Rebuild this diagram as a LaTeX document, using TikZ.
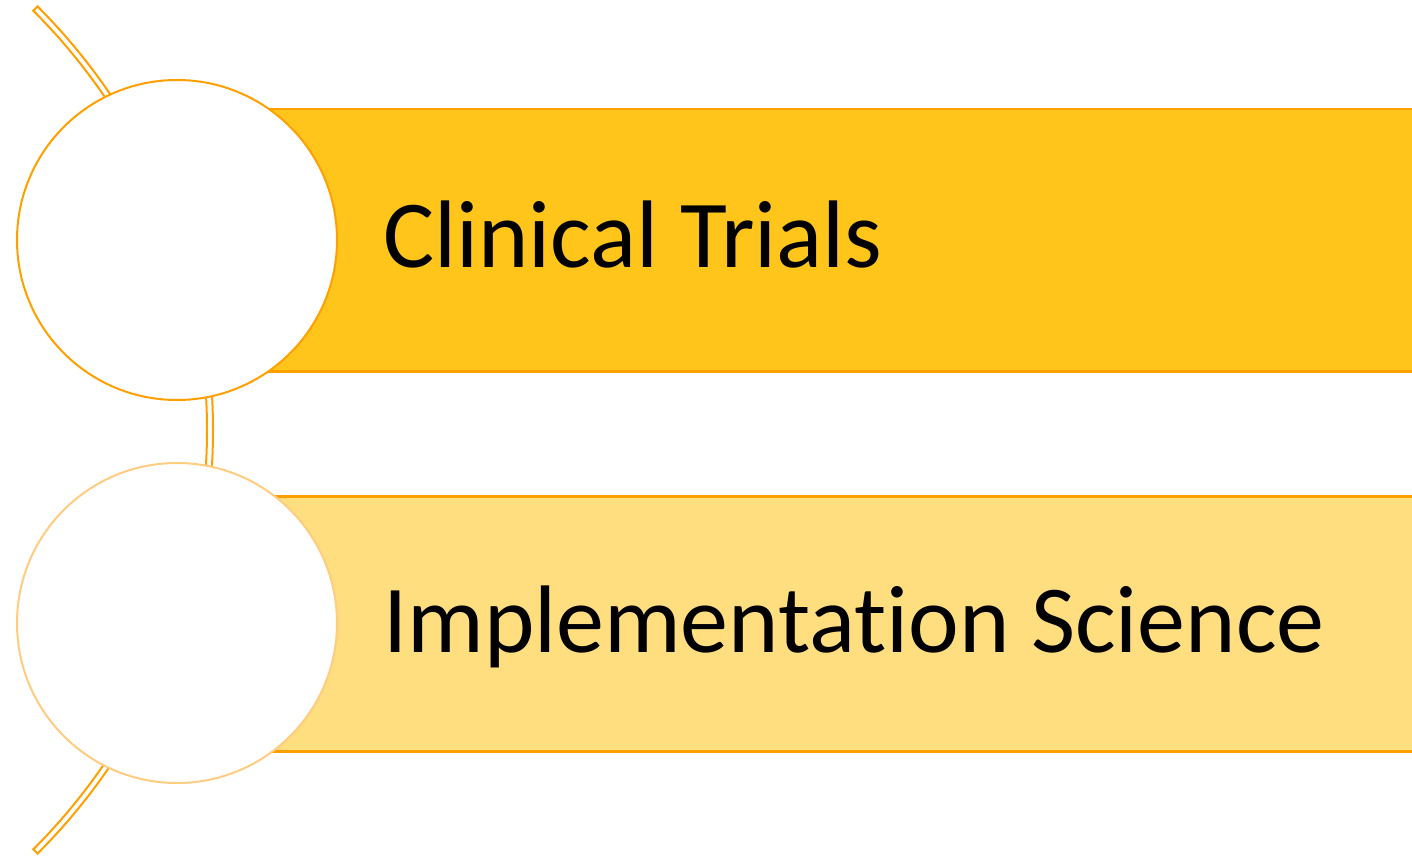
\documentclass[tikz,border=0pt]{standalone}
\usetikzlibrary{calc}
\usepackage{fontspec}
\setmainfont{Carlito}[Ligatures=CommonOff]
\definecolor{edge}{HTML}{FFA000}
\definecolor{barA}{HTML}{FFC51A}
\definecolor{barB}{HTML}{FFDE80}
\definecolor{edgeB}{HTML}{FFCC80}
\tikzset{
  bar/.style={draw=edge, line width=2.5pt, minimum width=1300pt, anchor=north west, inner sep=0pt},
  disc/.style={circle, draw, line width=2pt, fill=white, minimum size=320pt, inner sep=0pt},
  label/.style={anchor=base west, inner sep=0pt, font=\fontsize{96}{115}\selectfont, text=black},
}
\begin{document}
\begin{tikzpicture}[x=1pt,y=-1pt]
\useasboundingbox (0,0) rectangle (1412,858);
\clip (0,0) rectangle (1412,858);
% arc band
\coordinate (ac) at (-386,430);
\draw[edge, line width=2pt, fill=white]
  ($(ac)+(-45:599)$) arc[start angle=-45, end angle=45, radius=599]
  -- ($(ac)+(45:593)$) arc[start angle=45, end angle=-45, radius=593] -- cycle;
% bars
\node[bar, fill=barA, minimum height=262pt] (b1) at (177,108) {};
\node[bar, fill=barB, minimum height=255pt] (b2) at (177,495) {};
% circles
\node[disc, draw=edge] (c1) at (177,240) {};
\node[disc, draw=edgeB] (c2) at (177,623) {};
% labels
\node[label] (t1) at (383,268) {Clinical Trials};
\node[label] (t2) at (383,652) {Implementation Science};
\end{tikzpicture}
\end{document}
